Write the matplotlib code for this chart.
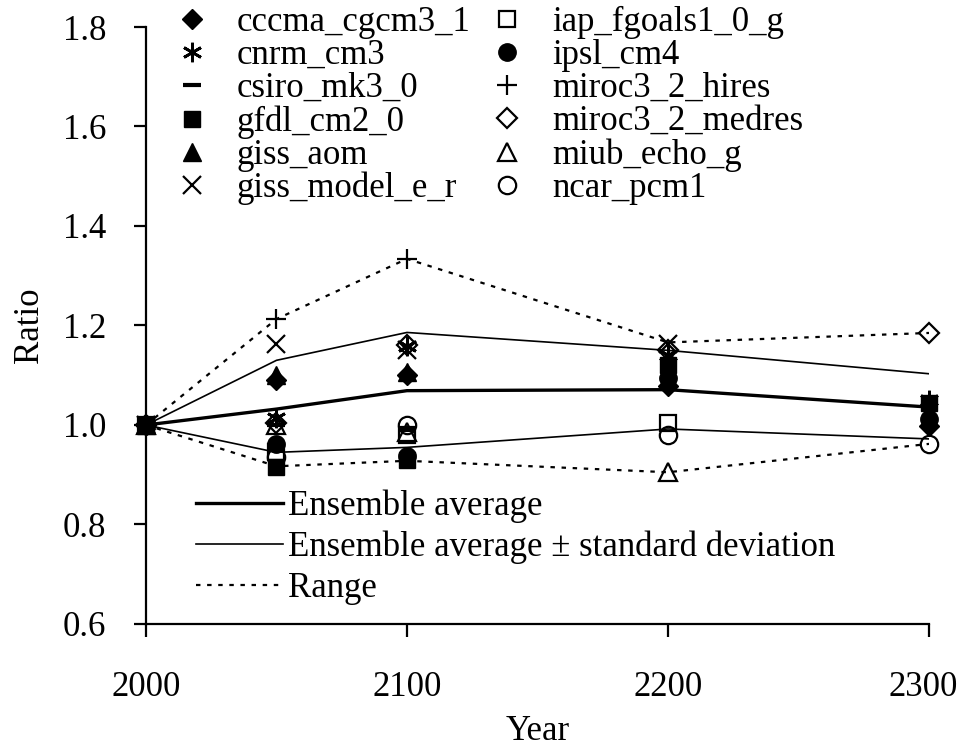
import numpy as np
import matplotlib.pyplot as plt
from matplotlib.transforms import ScaledTranslation

plt.rcParams['font.family'] = ['Liberation Serif', 'DejaVu Serif']

nan = np.nan
years = [2000, 2050, 2100, 2200, 2300]

# ratios, one list per model (nan = no run for that year)
cccma_cgcm3_1 = [1.0, 1.090, 1.100, 1.078, 0.998]
cnrm_cm3 = [1.0, 1.015, 1.158, 1.140, 1.050]
csiro_mk3_0 = [1.0, 1.000, 0.990, nan, nan]
gfdl_cm2_0 = [1.0, 0.915, 0.930, 1.120, 1.045]
giss_aom = [1.0, 1.100, 1.107, nan, nan]
giss_model_e_r = [1.0, 1.163, 1.150, 1.163, nan]
iap_fgoals1_0_g = [1.0, 0.945, 0.980, 1.005, nan]
ipsl_cm4 = [1.0, 0.962, 0.937, 1.095, 1.012]
miroc3_2_hires = [1.0, 1.213, 1.334, nan, nan]
miroc3_2_medres = [1.0, 1.005, 1.160, 1.150, 1.185]
miub_echo_g = [1.0, 1.000, 0.985, 0.905, nan]
ncar_pcm1 = [1.0, 0.935, 1.000, 0.980, 0.962]

ens_avg = [1.0, 1.032, 1.069, 1.071, 1.036]
ens_upper = [1.0, 1.130, 1.186, 1.150, 1.103]
ens_lower = [1.0, 0.945, 0.955, 0.992, 0.972]
range_max = [1.0, 1.213, 1.334, 1.166, 1.185]
range_min = [1.0, 0.917, 0.928, 0.905, 0.962]

series = [
    ("cccma_cgcm3_1", cccma_cgcm3_1, dict(marker="D", ms=10, mfc="black")),
    ("cnrm_cm3", cnrm_cm3, dict(marker=(6, 2, 0), ms=14, mew=2)),
    ("csiro_mk3_0", csiro_mk3_0, dict(marker="_", ms=13, mew=3)),
    ("gfdl_cm2_0", gfdl_cm2_0, dict(marker="s", ms=11.5, mfc="black")),
    ("giss_aom", giss_aom, dict(marker="^", ms=13, mfc="black")),
    ("giss_model_e_r", giss_model_e_r, dict(marker="x", ms=13, mew=1.6)),
    ("iap_fgoals1_0_g", iap_fgoals1_0_g, dict(marker="s", ms=11.5, mfc="none", mew=1.6)),
    ("ipsl_cm4", ipsl_cm4, dict(marker="o", ms=12.5, mfc="black")),
    ("miroc3_2_hires", miroc3_2_hires, dict(marker="+", ms=15, mew=1.6)),
    ("miroc3_2_medres", miroc3_2_medres, dict(marker="D", ms=10, mfc="none", mew=1.6)),
    ("miub_echo_g", miub_echo_g, dict(marker="^", ms=13, mfc="none", mew=1.6)),
    ("ncar_pcm1", ncar_pcm1, dict(marker="o", ms=12.5, mfc="none", mew=1.6)),
]

fig = plt.figure(figsize=(9.61, 7.48), dpi=100)
ax = fig.add_axes([0.1519, 0.1658, 0.8148, 0.7981])

l_avg, = ax.plot(years, ens_avg, color="black", lw=2.4, zorder=2)
l_sd, = ax.plot(years, ens_upper, color="black", lw=1.2, zorder=2)
ax.plot(years, ens_lower, color="black", lw=1.2, zorder=2)
l_rng, = ax.plot(years, range_max, color="black", lw=1.6, ls=(0, (2, 3)), zorder=2)
ax.plot(years, range_min, color="black", lw=1.6, ls=(0, (2, 3)), zorder=2)

handles = []
for name, vals, style in series:
    h, = ax.plot(years, vals, ls="none", color="black", mec="black",
                 clip_on=False, zorder=3, label=name, **style)
    handles.append(h)

ax.set_xlim(2000, 2300)
ax.set_ylim(0.6, 1.8)
ax.set_xticks([2000, 2100, 2200, 2300])
ax.set_yticks(np.arange(0.6, 1.81, 0.2))
ax.yaxis.set_major_formatter(plt.FormatStrFormatter("%.1f"))

for s in ["top", "right"]:
    ax.spines[s].set_visible(False)
for s in ["left", "bottom"]:
    ax.spines[s].set_linewidth(1.6)
ax.tick_params(direction="out", length=9, width=1.6, labelsize=25)
ax.tick_params(axis="x", pad=25)
ax.tick_params(axis="y", pad=19.5)

# last year label sits against the right edge, nudge it in a little
fig.canvas.draw()
last = ax.xaxis.get_major_ticks()[-1].label1
last.set_transform(last.get_transform() + ScaledTranslation(-4 / 72, 0, fig.dpi_scale_trans))

ax.set_xlabel("Year", fontsize=25, labelpad=8)
ax.set_ylabel("Ratio", fontsize=25, labelpad=12)

leg1 = ax.legend(handles=handles, ncol=2, loc="upper left", bbox_to_anchor=(0.036, 1.035),
                 frameon=False, fontsize=25, handlelength=1.0, handletextpad=0.8,
                 labelspacing=0.0, columnspacing=0.55, borderpad=0, borderaxespad=0)
ax.add_artist(leg1)

ax.legend([l_avg, l_sd, l_rng],
          ["Ensemble average", "Ensemble average \u00b1 standard deviation", "Range"],
          loc="lower left", bbox_to_anchor=(0.064, 0.032), frameon=False, fontsize=25,
          handlelength=2.5, handletextpad=0.15, labelspacing=0.22, borderpad=0,
          borderaxespad=0)

fig.savefig("out.png", dpi=100)
